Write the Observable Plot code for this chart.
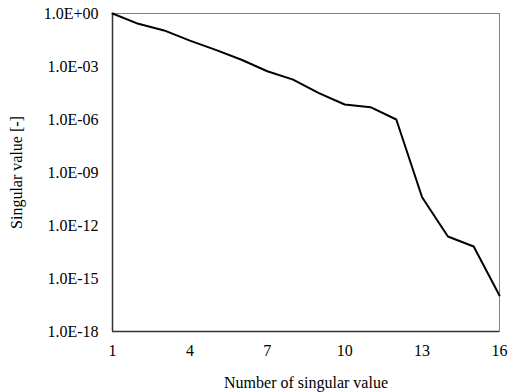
<!DOCTYPE html>
<html>
<head>
<meta charset="utf-8">
<script src="https://cdn.jsdelivr.net/npm/d3@7"></script>
<script src="https://cdn.jsdelivr.net/npm/@observablehq/plot@0.6"></script>
<style>
  html, body { margin: 0; padding: 0; background: #fff; }
  #chart svg, #chart svg text { font-family: "Liberation Serif", "Times New Roman", serif !important; }
</style>
</head>
<body>
<div id="chart"></div>
<script>
// Singular value spectrum (index 1..16)
const indices = [1, 2, 3, 4, 5, 6, 7, 8, 9, 10, 11, 12, 13, 14, 15, 16];
const singularValues = [1, 2.6e-1, 1.1e-1, 2.9e-2, 8.7e-3, 2.4e-3, 5.4e-4, 1.8e-4,
  3.1e-5, 7.1e-6, 5.0e-6, 1.0e-6, 4.0e-11, 2.4e-13, 6.5e-14, 1.1e-16];
const xTicks = [1, 4, 7, 10, 13, 16];
const yTicks = [1e0, 1e-3, 1e-6, 1e-9, 1e-12, 1e-15, 1e-18];

const data = indices.map((n, i) => ({n, s: singularValues[i]}));

// Excel-style scientific label: 1.0E+00, 1.0E-03, ...
const sci = d => {
  const e = Math.round(Math.log10(d));
  return "1.0E" + (e >= 0 ? "+" : "-") + String(Math.abs(e)).padStart(2, "0");
};

const serif = "Liberation Serif";

const chart = Plot.plot({
  width: 511,
  height: 392,
  marginLeft: 112,
  marginRight: 12,
  marginTop: 13,
  marginBottom: 61,
  style: {fontFamily: serif, fontSize: "16px", color: "#000", background: "#fff"},
  x: {domain: [1, 16]},
  y: {type: "log", domain: [1e-18, 1]},
  marks: [
    Plot.frame({stroke: "#808080", strokeWidth: 1}),
    Plot.ruleX([1], {stroke: "#333", strokeWidth: 1.5}),
    Plot.ruleY([1e-18], {stroke: "#333", strokeWidth: 1.5}),
    Plot.axisX({ticks: xTicks, tickSize: 0, tickPadding: 13, fontSize: 16, fontFamily: serif,
      label: "Number of singular value", labelAnchor: "center", labelArrow: "none", labelOffset: 56}),
    Plot.axisY({ticks: yTicks, tickFormat: sci, tickSize: 0, tickPadding: 14, fontSize: 16, fontFamily: serif,
      label: "Singular value [-]", labelAnchor: "center", labelArrow: "none", labelOffset: 102}),
    Plot.line(data, {x: "n", y: "s", stroke: "#000", strokeWidth: 2})
  ]
});

document.getElementById("chart").appendChild(chart);
</script>
</body>
</html>
